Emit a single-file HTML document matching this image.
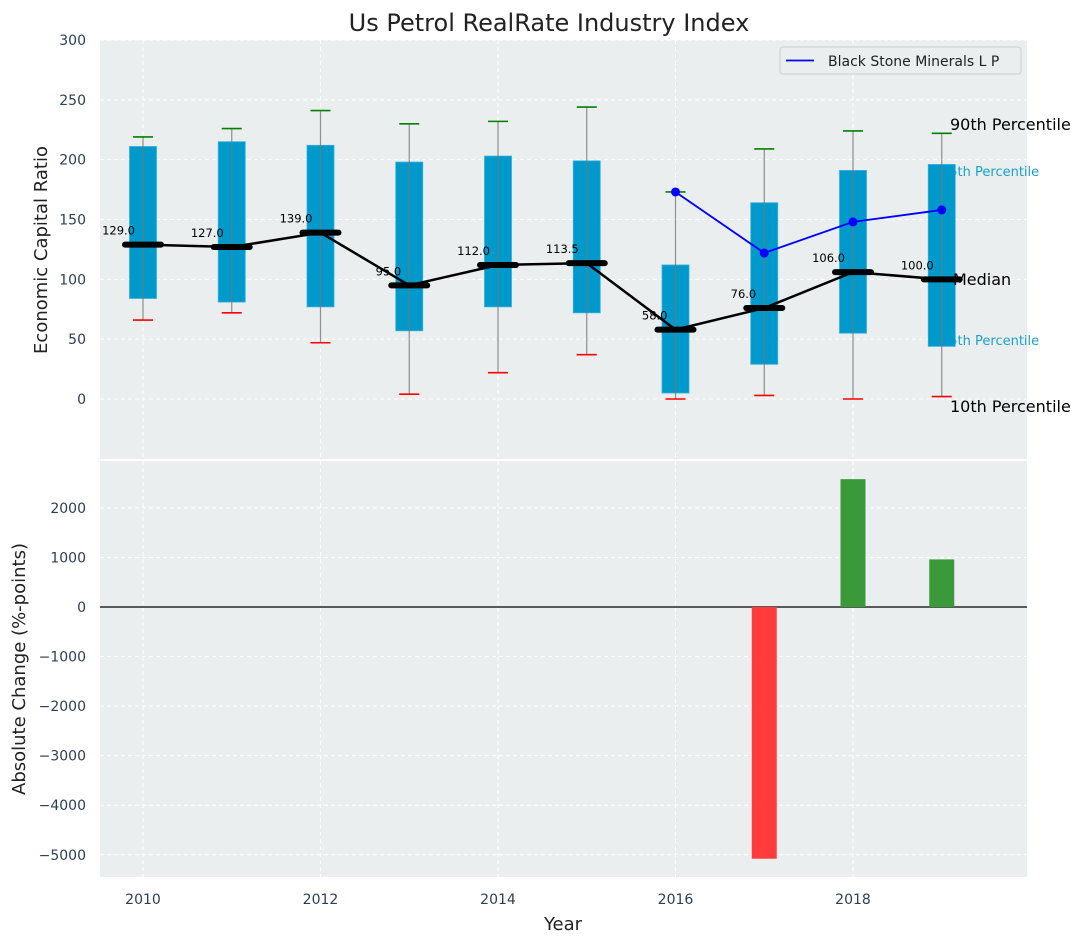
<!DOCTYPE html>
<html><head><meta charset="utf-8"><style>
body{margin:0;background:#fff;}
svg{display:block;font-family:"DejaVu Sans","Liberation Sans",sans-serif;}
</style></head><body>
<svg id="c" width="1085" height="942"></svg>
<script>
const years=[2010,2011,2012,2013,2014,2015,2016,2017,2018,2019];
const q1=[84,81,77,57,77,72,5,29,55,44];
const q3=[211,215,212,198,203,199,112,164,191,196];
const lowW=[66,72,47,4,22,37,0,3,0,2];
const highW=[219,226,241,230,232,244,173,209,224,222];
const medians=[129,127,139,95,112,113.5,58,76,106,100];
const bsmYears=[2016,2017,2018,2019];
const bsmVals=[173,122,148,158];
const chgYears=[2017,2018,2019];
const chgVals=[-5080,2580,960];
const topTicks=[0,50,100,150,200,250,300];
const botTicks=[-5000,-4000,-3000,-2000,-1000,0,1000,2000];
const xTicks=[2010,2012,2014,2016,2018];

const NS="http://www.w3.org/2000/svg";
const svg=document.getElementById('c');
function el(t,a,p){const e=document.createElementNS(NS,t);for(const k in a)e.setAttribute(k,a[k]);(p||svg).appendChild(e);return e;}
const L=100,R=1027;
const X=y=>143+(y-2010)*88.75;
const T0=40,T1=459,Y1=v=>399-v*(359/300);
const B0=461,B1=877,Y2=v=>607-v*0.04955;

let e=el('rect',{x:L,y:T0,width:R-L,height:T1-T0,fill:'#eaeeef'});

e=el('rect',{x:L,y:B0,width:R-L,height:B1-B0,fill:'#eaeeef'});

xTicks.forEach(t=>{[[T0,T1],[B0,B1]].forEach(r=>{el('line',{x1:X(t),x2:X(t),y1:r[0],y2:r[1],stroke:'#fff','stroke-dasharray':'4,3'});});
 e=el('text',{x:X(t),y:904,'text-anchor':'middle','font-size':14,fill:'#2a3f55'});e.textContent=t;
 });
topTicks.forEach(t=>{el('line',{x1:L,x2:R,y1:Y1(t),y2:Y1(t),stroke:'#fff','stroke-dasharray':'4,3'});
 e=el('text',{x:86,y:Y1(t)+5,'text-anchor':'end','font-size':14,fill:'#2a3f55'});e.textContent=t;
 });
botTicks.forEach(t=>{el('line',{x1:L,x2:R,y1:Y2(t),y2:Y2(t),stroke:'#fff','stroke-dasharray':'4,3'});
 e=el('text',{x:86,y:Y2(t)+5,'text-anchor':'end','font-size':14,fill:'#2a3f55'});e.textContent=(t<0?'\u2212'+(-t):t);
 });

function lab(x,y,s,fs,c,n){const t=el('text',{x:x,y:y,'font-size':fs,fill:c});t.textContent=s;}
lab(941,176,'75th Percentile',13,'#1aa0d0','p75-label');
lab(941,345,'25th Percentile',13,'#1aa0d0','p25-label');

years.forEach((y,i)=>{const x=X(y);
 let b=el('rect',{x:x-13.5,y:Y1(q3[i]),width:27,height:Y1(q1[i])-Y1(q3[i]),fill:'#0099cc',stroke:'#33b0dd','stroke-width':0.8});
 
 el('line',{x1:x,x2:x,y1:Y1(lowW[i]),y2:Y1(highW[i]),stroke:'#777','stroke-width':1.2,opacity:0.8});
 let c=el('line',{x1:x-10,x2:x+10,y1:Y1(highW[i]),y2:Y1(highW[i]),stroke:'green','stroke-width':1.6});
 
 c=el('line',{x1:x-10,x2:x+10,y1:Y1(lowW[i]),y2:Y1(lowW[i]),stroke:'red','stroke-width':1.6});
 
});
let pts=years.map((y,i)=>X(y)+','+Y1(medians[i])).join(' ');
e=el('polyline',{points:pts,fill:'none',stroke:'#000','stroke-width':2.5});

years.forEach((y,i)=>{const x=X(y);
 let m=el('line',{x1:x-18,x2:x+18,y1:Y1(medians[i]),y2:Y1(medians[i]),stroke:'#000','stroke-width':6,'stroke-linecap':'round'});
 
 let t=el('text',{x:x-8,y:Y1(medians[i])-10,'text-anchor':'end','font-size':11.5,fill:'#000'});t.textContent=medians[i].toFixed(1);
 
});
pts=bsmYears.map((y,i)=>X(y)+','+Y1(bsmVals[i])).join(' ');
e=el('polyline',{points:pts,fill:'none',stroke:'blue','stroke-width':1.8});

bsmYears.forEach((y,i)=>{let p=el('circle',{cx:X(y),cy:Y1(bsmVals[i]),r:4.5,fill:'blue'});
 });

lab(950,130,'90th Percentile',16,'#000','p90-label');
lab(953,285,'Median',16,'#000','median-label');
lab(950,412,'10th Percentile',16,'#000','p10-label');

const lg=el('g',{});
el('rect',{x:780,y:47,width:241,height:27,rx:3,fill:'#eaeeef',stroke:'#ccc'},lg);
el('line',{x1:786,x2:814,y1:60.5,y2:60.5,stroke:'blue','stroke-width':1.8},lg);
let lt=el('text',{x:828,y:66,'font-size':14,fill:'#222'},lg);lt.textContent='Black Stone Minerals L P';

el('line',{x1:L,x2:R,y1:Y2(0),y2:Y2(0),stroke:'#000','stroke-width':1.2});
chgYears.forEach((y,i)=>{const v=chgVals[i];
 let b=el('rect',{x:X(y)-12.5,y:Math.min(Y2(v),Y2(0)),width:25,height:Math.abs(Y2(v)-Y2(0)),fill:v<0?'#ff3b3b':'#3a9a3a'});
 });

e=el('text',{x:549,y:31,'text-anchor':'middle','font-size':24,fill:'#222'});e.textContent='Us Petrol RealRate Industry Index';

e=el('text',{x:563,y:930,'text-anchor':'middle','font-size':18,fill:'#222'});e.textContent='Year';

e=el('text',{x:0,y:0,'text-anchor':'middle','font-size':18,fill:'#222',transform:'translate(47,250) rotate(-90)'});e.textContent='Economic Capital Ratio';

e=el('text',{x:0,y:0,'text-anchor':'middle','font-size':18,fill:'#222',transform:'translate(25,669) rotate(-90)'});e.textContent='Absolute Change (%-points)';

</script>
</body></html>
